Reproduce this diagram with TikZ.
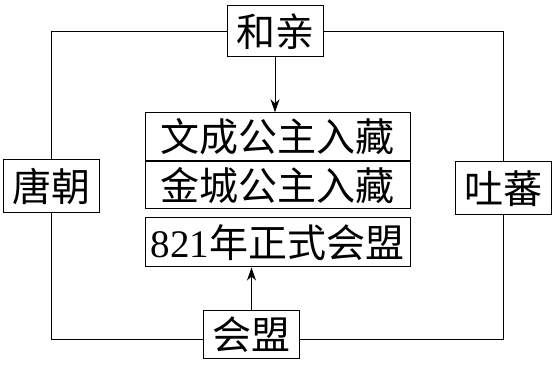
\documentclass[tikz,border=0pt]{standalone}
\usepackage{fontspec}
\usepackage{tikz}
\usetikzlibrary{positioning, arrows.meta, calc}
\newfontfamily\cjk{Noto Sans CJK SC}
\newfontfamily\shuzi{Liberation Serif}

\begin{document}
\begin{tikzpicture}[x=1pt, y=1pt, line width=1pt,
    kuang/.style={draw, inner sep=0pt, minimum width=96pt, minimum height=51pt,
                  font=\fontsize{39}{42}\selectfont\cjk},
    shijian/.style={draw, inner sep=0pt, minimum width=265pt, minimum height=48pt,
                    font=\fontsize{39}{42}\selectfont\cjk},
    jiantou/.style={-{Stealth[length=13pt, width=9pt, inset=4pt]}}]
    \useasboundingbox (0,0) rectangle (556,366);
    % four boxes round the frame
    \node[kuang] (heqin) at (275,334.5) {和亲};
    \node[kuang, minimum height=53pt] (tang) at (51.5,179.5) {唐朝};
    \node[kuang, minimum height=53pt] (tubo) at (503.5,177.5) {吐蕃};
    \node[kuang, minimum height=48pt] (huimeng) at (251.5,31) {会盟};
    % events in the middle
    \node[shijian] (wencheng) at (277.5,229.2) {文成公主入藏};
    \node[shijian, minimum height=47pt, below=0pt of wencheng] (jincheng) {金城公主入藏};
    \node[shijian, minimum height=49pt] (mengyue) at (277.5,123.5)
        {{\shuzi 821}年正式会盟};
    % frame
    \draw (heqin.west) -| (tang.north);
    \draw (heqin.east) -| (tubo.north);
    \draw (tang.south) |- ([yshift=-5pt]huimeng.west);
    \draw (tubo.south) |- ([yshift=-5pt]huimeng.east);
    % arrows
    \draw[jiantou] (heqin.south) -- (heqin.south |- wencheng.north);
    \draw[jiantou] (huimeng.north) -- (huimeng.north |- mengyue.south);
\end{tikzpicture}
\end{document}
